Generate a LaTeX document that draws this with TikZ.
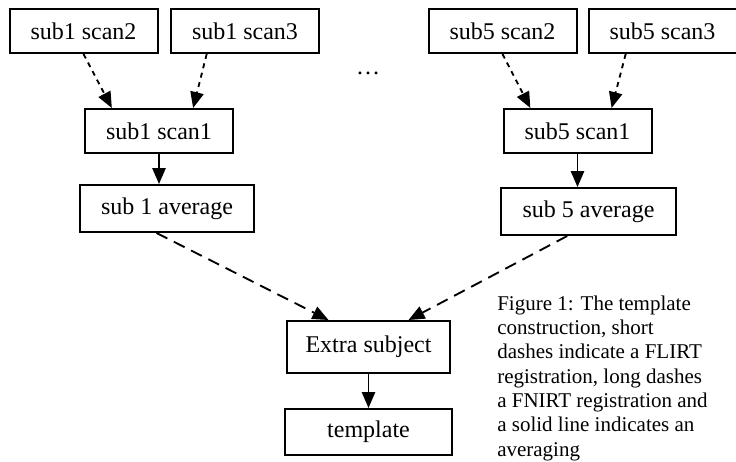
\documentclass[tikz,border=0pt]{standalone}
\usepackage{fontspec}
\setmainfont{Liberation Serif}
\usetikzlibrary{arrows.meta}
\begin{document}
\begin{tikzpicture}[x=0.75pt, y=-0.75pt,
        box/.style={draw, line width=1.5pt, inner sep=2pt, font=\fontsize{18}{20}\selectfont},
        scanbox/.style={box, minimum width=111pt, minimum height=33pt},
        avgbox/.style={box, minimum width=131pt, minimum height=35.25pt},
        link/.style={line width=1.4pt, -{Triangle[length=12pt, width=10pt]}},
        flirt/.style={link, dash pattern=on 3.75pt off 3.5pt},
        fnirt/.style={link, dash pattern=on 9pt off 5.5pt},
        average/.style={link}]
            \useasboundingbox (0,0) rectangle (736,461);
            \pgfmathsetmacro{\ra}{31};
            \pgfmathsetmacro{\rb}{131};
            \node [scanbox] (s1s2) at (83.5, \ra) {sub1 scan2};
            \node [scanbox] (s1s3) at (245, \ra) {sub1 scan3};
            \node [scanbox] (s5s2) at (502.5, \ra) {sub5 scan2};
            \node [scanbox] (s5s3) at (662.5, \ra) {sub5 scan3};
            \node [scanbox] (s1s1) at (159, \rb) {sub1 scan1};
            \node [scanbox] (s5s1) at (577.5, \rb) {sub5 scan1};
            \node [avgbox] (s1avg) at (167, 208.5) {sub 1 average};
            \node [avgbox] (s5avg) at (588.5, 211.5) {sub 5 average};
            \node [box, minimum width=122.25pt, minimum height=39pt] (extra) at (368.5, 347) {Extra subject};
            \node [box, minimum width=125.25pt, minimum height=34.5pt] (templ) at (368.5, 432) {template};
            \node [anchor=base, font=\fontsize{18}{20}\selectfont] (dots) at (368, 74) {\ldots};
            % short dashes: FLIRT
            \draw [flirt] (s1s2.south) -- (s1s1.154);
            \draw [flirt] (s1s3.211) -- (s1s1.34);
            \draw [flirt] (s5s2.south) -- (s5s1.154);
            \draw [flirt] (s5s3.212) -- (s5s1.34);
            % solid: averaging
            \draw [average] (s1s1.south) -- (s1s1.south |- s1avg.north);
            \draw [average] (s5s1.south) -- (s5s1.south |- s5avg.north);
            \draw [average] (extra.south) -- (templ.north);
            % long dashes: FNIRT
            \draw [fnirt] (s1avg.247) -- (extra.146);
            \draw [fnirt] (s5avg.229) -- (extra.34);
            \node [anchor=base west, align=left, inner sep=0pt, font=\fontsize{15.75}{18.2}\selectfont] (caption) at (497, 456)
                {Figure 1: The template\\construction, short\\dashes indicate a FLIRT\\registration, long dashes\\a FNIRT registration and\\a solid line indicates an\\averaging};
        \end{tikzpicture}
\end{document}
